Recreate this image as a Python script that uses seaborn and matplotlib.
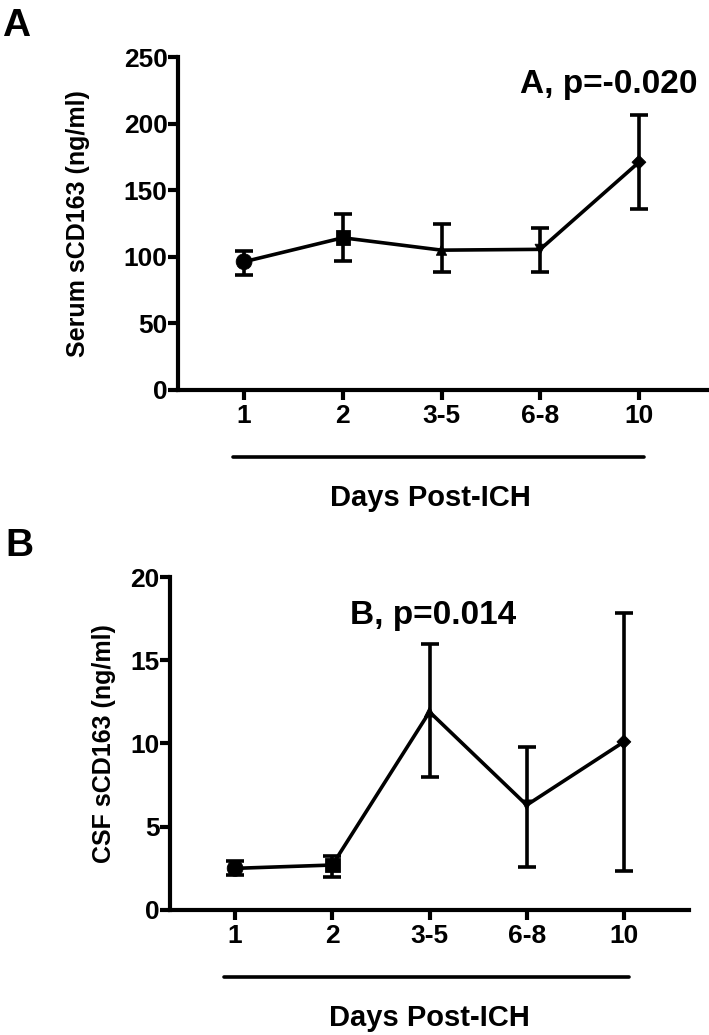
import matplotlib
matplotlib.use("Agg")
import matplotlib.pyplot as plt
import matplotlib.transforms as mtransforms
import seaborn as sns
import pandas as pd
import numpy as np

# datos
dias = ["1", "2", "3-5", "6-8", "10"]
marcadores = ["o", "s", "^", "v", "D"]

suero_media = [96.3, 114.3, 105.0, 105.6, 171.0]
suero_bajo = [86.3, 97.0, 88.8, 88.8, 136.0]
suero_alto = [104.6, 132.0, 124.4, 121.4, 206.5]

lcr_media = [2.5, 2.7, 11.9, 6.3, 10.1]
lcr_bajo = [2.1, 2.0, 7.97, 2.56, 2.36]
lcr_alto = [2.94, 3.26, 16.0, 9.8, 17.85]

sns.set_theme(style="ticks")
plt.rcParams["font.family"] = ["Liberation Sans", "DejaVu Sans"]
plt.rcParams["font.weight"] = "bold"
plt.rcParams["text.color"] = "black"
plt.rcParams["axes.labelcolor"] = "black"

LW = 2.6


def panel(ax, media, bajo, alto, ylabel, ymax, ystep, xmax, texto, texto_xy,
          ylab_x, xlab_x):
    datos = pd.DataFrame({"pos": np.arange(len(dias)), "media": media,
                          "dia": dias})
    media = np.array(media)
    err = [media - np.array(bajo), np.array(alto) - media]
    ax.errorbar(datos["pos"], media, yerr=err, fmt="none", ecolor="black",
                elinewidth=LW, capsize=6.5, capthick=LW, zorder=2)
    sns.lineplot(data=datos, x="pos", y="media", color="black", lw=LW,
                 ax=ax, zorder=3)
    tam = {"1": 130, "2": 110, "3-5": 55, "6-8": 55, "10": 50}
    sns.scatterplot(data=datos, x="pos", y="media", style="dia",
                    markers=dict(zip(dias, marcadores)), size="dia",
                    sizes=tam, color="black", edgecolor="black",
                    legend=False, ax=ax, zorder=4)

    ax.set_xlim(-0.67, xmax)
    ax.set_ylim(0, ymax)
    ax.set_xticks(np.arange(len(dias)))
    ax.set_xticklabels(dias)
    ax.set_yticks(np.arange(0, ymax + 1, ystep))
    sns.despine(ax=ax)
    for s in ["left", "bottom"]:
        ax.spines[s].set_linewidth(3.0)
        ax.spines[s].set_color("black")
    ax.tick_params(axis="both", width=3.0, length=7, color="black",
                   labelsize=19, labelcolor="black")
    ax.tick_params(axis="y", pad=0.5)
    ax.tick_params(axis="x", pad=3)
    for t in ax.get_xticklabels() + ax.get_yticklabels():
        t.set_fontweight("bold")

    ax.set_ylabel(ylabel, fontsize=18, fontweight="bold", color="black")
    ax.yaxis.set_label_coords(ylab_x, 0.5)
    ax.set_xlabel("Days Post-ICH", fontsize=21, fontweight="bold",
                  color="black", va="top")
    ax.xaxis.set_label_coords(xlab_x, -0.282)

    # linea bajo las etiquetas del eje x
    trans = mtransforms.blended_transform_factory(ax.transData, ax.transAxes)
    ax.plot([-0.11, len(dias) - 1 + 0.05], [-0.2, -0.2], color="black",
            lw=LW, transform=trans, clip_on=False, solid_capstyle="round")

    ax.text(texto_xy[0], texto_xy[1], texto, fontsize=24, fontweight="bold",
            ha="center", va="center", color="black")


fig = plt.figure(figsize=(7.09, 10.35), dpi=100)
axA = fig.add_axes([0.251, 0.6232, 0.749, 0.3217])
axB = fig.add_axes([0.2398, 0.1208, 0.732, 0.3217])

panel(axA, suero_media, suero_bajo, suero_alto, "Serum sCD163 (ng/ml)",
      250, 50, 4.71, "A, p=-0.020", (3.69, 229), -0.165, 0.476)
panel(axB, lcr_media, lcr_bajo, lcr_alto, "CSF sCD163 (ng/ml)",
      20, 5, 4.67, "B, p=0.014", (2.04, 17.7), -0.105, 0.50)

fig.text(0.003, 1 - 8 / 1035, "A", fontsize=28, fontweight="bold",
         va="top", ha="left", color="black")
fig.text(0.008, 1 - 528 / 1035, "B", fontsize=28, fontweight="bold",
         va="top", ha="left", color="black")

plt.savefig("out.png", dpi=100)
